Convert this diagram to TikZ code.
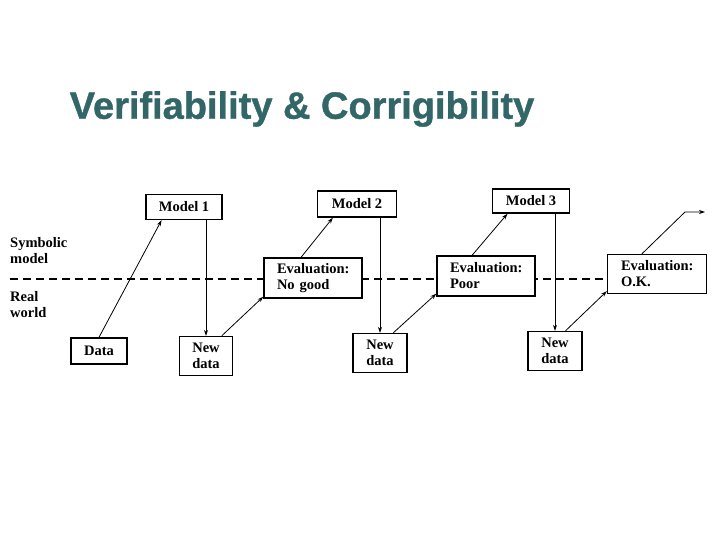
\documentclass[tikz,border=0pt]{standalone}
\usepackage{fontspec}
\setmainfont{Liberation Serif}
\newfontfamily\titlefont[FakeBold=1]{Liberation Sans Bold}
\usetikzlibrary{calc,arrows.meta}
\definecolor{titleteal}{HTML}{336666}
\begin{document}
\begin{tikzpicture}[x=1pt,y=-1pt,
  box/.style={draw,line width=1.4pt,fill=white,inner sep=0pt,font=\bfseries\fontsize{14.5}{16}\selectfont},
  evalbox/.style={box,align=left,text width=#1},
  lbl/.style={inner sep=0pt,align=left,anchor=north west,font=\bfseries\fontsize{14.5}{16}\selectfont},
  conn/.style={line width=0.8pt,-{Stealth[length=6pt,width=4pt]}}]
\useasboundingbox (0,0) rectangle (720,540);
\node[font=\titlefont\fontsize{38}{40}\selectfont,text=titleteal,inner sep=0pt] (title) at (302,109) {Verifiability \& Corrigibility};
% dashed separator
\coordinate (dstart) at (10,279);
\draw[line width=1.4pt,dash pattern=on 8pt off 5pt] (dstart) -- (608,279) coordinate (dend);
% labels
\node[lbl] (sym) at (10,237) {Symbolic\\model};
\node[lbl] (real) at (10,291) {Real\\world};
% nodes
\node[box,minimum width=76pt,minimum height=25pt] (m1) at (184,207) {Model 1};
\node[box,minimum width=79pt,minimum height=26pt] (m2) at (357,204) {Model 2};
\node[box,minimum width=77pt,minimum height=24pt] (m3) at (531,201) {Model 3};
\node[box,minimum width=56pt,minimum height=26pt] (data) at (99,351) {Data};
\node[box,minimum width=53pt,minimum height=39pt,align=left] (nd1) at (206,356) {New\\data};
\node[box,minimum width=54pt,minimum height=39pt,align=left] (nd2) at (380,353) {New\\data};
\node[box,minimum width=54pt,minimum height=39pt,align=left] (nd3) at (555,351) {New\\data};
\node[evalbox=72pt,minimum width=98pt,minimum height=40pt] (e1) at (313,278) {Evaluation:\\No good};
\node[evalbox=72pt,minimum width=98pt,minimum height=40pt] (e2) at (486,276) {Evaluation:\\Poor};
\node[evalbox=72pt,minimum width=99pt,minimum height=39pt] (e3) at (657,274) {Evaluation:\\O.K.};
% connectors
\draw[conn] (data.north) -- ($(m1.south west)!0.21!(m1.south east)$);
\draw[conn] (nd1.north |- m1.south) -- (nd1.north);
\draw[conn] ($(nd1.north west)!0.79!(nd1.north east)$) -- ([yshift=2pt]e1.south west);
\draw[conn] ($(e1.north west)!0.38!(e1.north east)$) -- ($(m2.south west)!0.2!(m2.south east)$);
\draw[conn] (nd2.north |- m2.south) -- (nd2.north);
\draw[conn] ($(nd2.north west)!0.74!(nd2.north east)$) -- ([yshift=3pt]e2.south west);
\draw[conn] ($(e2.north west)!0.36!(e2.north east)$) -- ($(m3.south west)!0.2!(m3.south east)$);
\draw[conn] (nd3.north |- m3.south) -- (nd3.north);
\draw[conn] ($(nd3.north west)!0.69!(nd3.north east)$) -- ([yshift=3pt]e3.south west);
\coordinate (bend) at (685,212);
\coordinate (outend) at (705,212);
\draw[conn] ($(e3.north west)!0.35!(e3.north east)$) -- (bend) -- (outend);
\end{tikzpicture}
\end{document}
